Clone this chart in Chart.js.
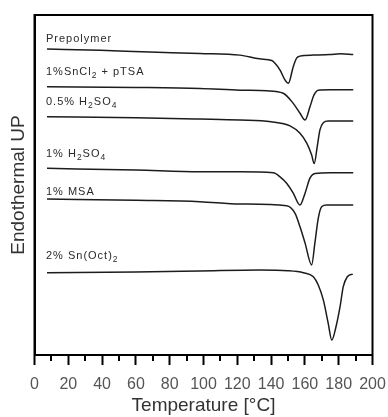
<!DOCTYPE html>
<html>
<head>
<meta charset="utf-8">
<script src="https://cdn.jsdelivr.net/npm/chart.js@4.4.0/dist/chart.umd.min.js"></script>
<style>
  html, body { margin: 0; padding: 0; background: #fff; }
</style>
</head>
<body>
<canvas id="dsc" width="388" height="417"></canvas>
<script>
// DSC heating traces, stacked with an offset; heat flow in arbitrary units
const sampleNames = ['Prepolymer', '1%SnCl_2 + pTSA', '0.5% H_2SO_4', '1% H_2SO_4', '1% MSA', '2% Sn(Oct)_2'];

const prepolymerT = [7.4, 38.8, 68.3, 97.9, 121.6, 133.1, 140.4, 142.3, 145.3, 148.2, 150.2, 153.1, 155.1, 157.1, 165, 175, 181, 188.6];
const prepolymerQ = [90.0, 89.6, 89.1, 88.7, 88.2, 87.1, 86.6, 85.8, 83.8, 80.9, 79.9, 84.8, 87.3, 87.9, 88.2, 88.4, 88.6, 88.4];

const snCl2T = [7.4, 60, 97.9, 121.6, 137.4, 147.2, 153.1, 157.1, 160.1, 163.0, 165.4, 167.9, 175, 188.6];
const snCl2Q = [78.9, 78.7, 78.4, 77.9, 77.7, 77.0, 74.0, 71.1, 69.1, 73.0, 76.5, 77.9, 78.0, 78.0];

const h2so4HalfT = [7.4, 60, 97.9, 121.6, 140, 151.2, 157.1, 161.1, 164.0, 165.5, 167.3, 168.9, 170.9, 173.8, 188.6];
const h2so4HalfQ = [70.1, 69.8, 69.4, 69.1, 68.6, 67.4, 65.2, 62.3, 58.8, 56.3, 61.3, 66.2, 68.3, 68.8, 68.8];

const h2so4OneT = [7.4, 60, 97.9, 121.6, 141.3, 145.3, 149.2, 153.1, 157.1, 160.1, 163.0, 166.0, 175, 188.6];
const h2so4OneQ = [54.9, 54.4, 53.9, 53.9, 53.6, 52.4, 50.5, 47.6, 44.1, 47.6, 52.0, 53.4, 53.6, 53.6];

const msaT = [7.4, 60, 97.9, 121.6, 149.2, 154.1, 157.1, 160.1, 164.0, 165.9, 167.9, 169.9, 172.9, 188.6];
const msaQ = [45.9, 45.5, 45.1, 44.4, 43.9, 41.7, 37.7, 32.9, 26.5, 32.9, 40.2, 43.6, 44.1, 44.1];

const snOctT = [7.4, 60, 97.9, 133.1, 150, 159.1, 165.0, 167.9, 170.9, 173.8, 175.9, 178.4, 180.8, 182.7, 185.1, 188.3];
const snOctQ = [24.2, 24.4, 24.7, 25.0, 24.8, 24.2, 23.0, 20.6, 16.2, 9.3, 4.4, 8.3, 14.2, 20.1, 23.0, 23.8];

// where each sample name sits (temperature, heat-flow level of its baseline)
const labelT = 6.8;
const labelLevels = [92.1, 82.4, 73.5, 58.3, 47.1, 28.2];

const seriesT = [prepolymerT, snCl2T, h2so4HalfT, h2so4OneT, msaT, snOctT];
const seriesQ = [prepolymerQ, snCl2Q, h2so4HalfQ, h2so4OneQ, msaQ, snOctQ];

const FONT = "'Liberation Sans', Arial, Helvetica, sans-serif";

const datasets = seriesT.map((ts, i) => ({
  label: sampleNames[i],
  data: ts.map((t, k) => ({ x: t, y: seriesQ[i][k] })),
  borderColor: '#1c1c1c',
  borderWidth: 1.5,
  pointRadius: 0,
  fill: false,
  cubicInterpolationMode: 'monotone'
}));

// frame, minor ticks and the sample names
const decorations = {
  id: 'decorations',
  afterDraw(chart) {
    const { ctx, chartArea: a, scales: { x, y } } = chart;
    ctx.save();
    ctx.strokeStyle = '#000';
    ctx.lineWidth = 2;
    ctx.strokeRect(a.left, a.top, a.right - a.left, a.bottom - a.top);

    for (let v = 10; v < 200; v += 20) {
      const px = Math.round(x.getPixelForValue(v));
      ctx.beginPath();
      ctx.moveTo(px, a.bottom);
      ctx.lineTo(px, a.bottom + 6);
      ctx.stroke();
    }

    ctx.fillStyle = '#2a2a2a';
    ctx.textBaseline = 'alphabetic';
    if ('letterSpacing' in ctx) ctx.letterSpacing = '1px';
    sampleNames.forEach((name, i) => {
      let px = x.getPixelForValue(labelT);
      const py = y.getPixelForValue(labelLevels[i]);
      name.split(/(_\d)/).filter(Boolean).forEach(part => {
        if (part.startsWith('_')) {
          ctx.font = '8.5px ' + FONT;
          ctx.fillText(part.slice(1), px, py + 3);
          px += ctx.measureText(part.slice(1)).width;
        } else {
          ctx.font = '11px ' + FONT;
          ctx.fillText(part, px, py);
          px += ctx.measureText(part).width;
        }
      });
    });
    ctx.restore();
  }
};

new Chart(document.getElementById('dsc'), {
  type: 'line',
  data: { datasets },
  options: {
    responsive: false,
    animation: false,
    devicePixelRatio: 1,
    layout: { padding: { left: 0, right: 15.5, top: 15, bottom: 0 } },
    plugins: { legend: { display: false }, tooltip: { enabled: false } },
    scales: {
      x: {
        type: 'linear',
        min: 0,
        max: 200,
        afterFit(scale) {
          scale.height = 62;
          scale.paddingLeft = 0;
          scale.paddingRight = 0;
        },
        ticks: {
          stepSize: 20,
          autoSkip: false,
          maxRotation: 0,
          padding: 10,
          color: '#555',
          font: { family: FONT, size: 16 }
        },
        grid: { drawOnChartArea: false, tickLength: 10, tickWidth: 2, tickColor: '#000' },
        border: { color: '#000', width: 2 },
        title: {
          display: true,
          text: 'Temperature [°C]',
          color: '#333',
          font: { family: FONT, size: 19 },
          padding: { top: 0, bottom: 0 }
        }
      },
      y: {
        type: 'linear',
        min: 0,
        max: 100,
        afterFit(scale) { scale.width = 34.5; },
        ticks: { display: false },
        grid: { display: false },
        border: { color: '#000', width: 2 },
        title: {
          display: true,
          text: 'Endothermal UP',
          color: '#333',
          font: { family: FONT, size: 19 },
          padding: { top: 7, bottom: 4 }
        }
      }
    }
  },
  plugins: [decorations]
});
</script>
</body>
</html>
